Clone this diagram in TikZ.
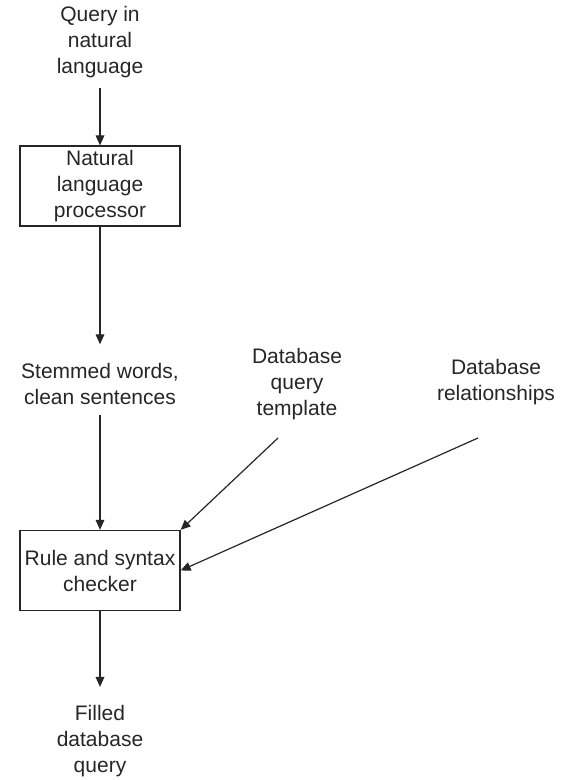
\documentclass[tikz,border=0pt]{standalone}
\usepackage{fontspec}
\setmainfont{Liberation Sans}
\usetikzlibrary{arrows.meta}
\begin{document}
\begin{tikzpicture}[x=0.75pt,y=-0.75pt,
  lbl/.style={align=center, inner sep=0pt, text=black!85,
    font=\fontsize{15.75}{19.5}\selectfont},
  box/.style={lbl, draw=black!85, line width=0.9pt,
    minimum width=120pt, minimum height=60pt},
  arr/.style={draw=black!85, line width=0.9pt,
    -{Triangle[length=7.5pt,width=6.5pt]}}]
\useasboundingbox (0,0) rectangle (575,780);

% text and boxes of the pipeline
\node[lbl] (q)    at (100,42)  {Query in\\natural\\language};
\node[box] (b1)   at (100,186) {Natural\\language\\processor};
\node[lbl] (stem) at (100,384) {Stemmed words,\\clean sentences};
\node[box] (b2)   at (100,570.5) {Rule and syntax\\checker};
\node[lbl] (fq)   at (100,741) {Filled\\database\\query};

% side inputs
\node[lbl] (dqt)  at (297,384) {Database\\query\\template};
\node[lbl] (drel) at (496,382) {Database\\relationships};
\coordinate (dqtTail)  at (278,438);
\coordinate (drelTail) at (478,438);

% connectors
\draw[arr, shorten <=7.5pt] (q.south) -- (b1.north);
\draw[arr, shorten >=14pt] (b1.south) -- (stem.north);
\draw[arr, shorten <=7.5pt] (stem.south) -- (b2.north);
\draw[arr, shorten >=13.5pt] (b2.south) -- (fq.north);
\draw[arr] (dqtTail) -- (b2.north east);
\draw[arr] (drelTail) -- (b2.east);
\end{tikzpicture}
\end{document}
